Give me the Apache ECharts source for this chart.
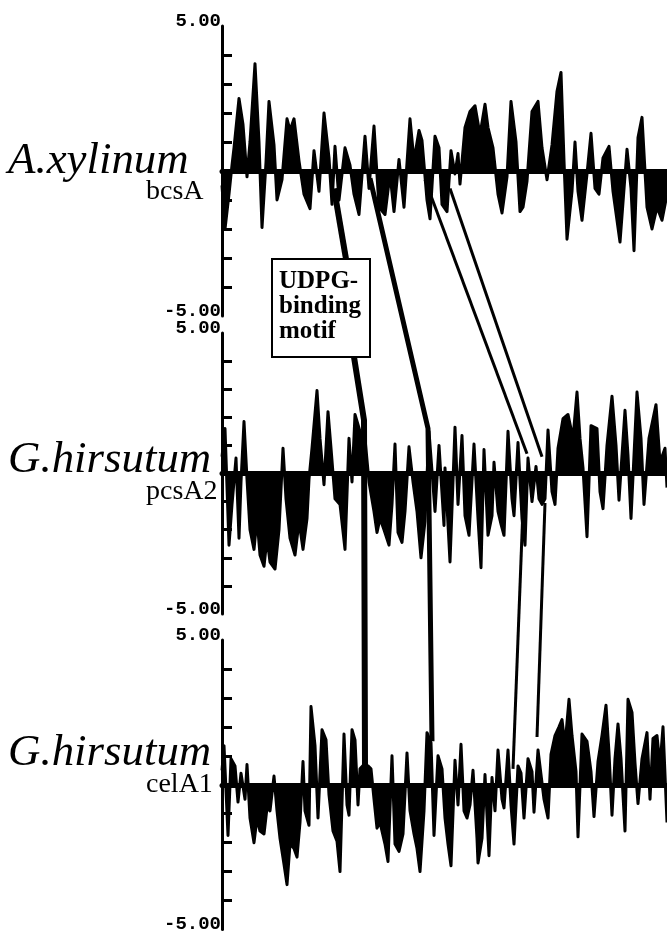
<!DOCTYPE html>
<html>
<head>
<meta charset="utf-8">
<script src="https://cdn.jsdelivr.net/npm/echarts@6/dist/echarts.min.js"></script>
<style>
  html, body { margin: 0; padding: 0; background: #fff; }
  #main { width: 667px; height: 934px; }
</style>
</head>
<body>
<div id="main"></div>
<script>
// hydropathy profiles, [residue position, hydropathy]
var bcsA = [
  [0,-0.5],[3,-2.0],[7,-0.8],[10,0.2],[12,0.8],[17,2.5],[21,1.6],[25,-0.2],[28,1.0],[33,3.7],
  [37,1.0],[40,-1.95],[44,0.3],[47,2.4],[52,0.9],[55,-1.0],[60,-0.3],[65,1.8],[68,1.4],[72,1.8],
  [77,0.35],[82,-0.8],[88,-1.3],[92,0.7],[97,-0.7],[102,2.0],[107,0.45],[110,-1.15],[113,0.85],[117,-1.0],
  [123,0.8],[128,0.2],[132,-0.8],[137,-1.5],[143,1.2],[147,-0.6],[152,1.55],[157,-1.25],[163,-1.5],[168,-0.1],
  [172,-1.4],[177,0.4],[182,-1.25],[188,1.8],[192,0.35],[197,1.4],[200,1.05],[205,-1.0],[208,-1.65],[213,1.2],
  [217,0.8],[220,-1.15],[225,-1.4],[229,0.7],[233,-0.1],[236,0.6],[238,-0.45],[243,1.5],[248,2.05],[253,2.25],
  [258,1.25],[263,2.3],[266,1.5],[271,0.8],[276,-0.8],[280,-1.45],[285,-0.2],[289,2.4],[294,1.0],[298,-1.4],
  [301,-1.25],[305,-0.35],[310,2.05],[316,2.4],[320,0.8],[325,-0.3],[330,0.9],[335,2.75],[339,3.4],[342,0.35],
  [345,-2.35],[350,-0.7],[353,1.0],[356,-0.7],[360,-1.7],[365,-0.1],[369,1.3],[373,-0.6],[377,-0.8],[381,0.45],
  [387,0.85],[391,-0.7],[398,-2.45],[405,0.75],[409,-0.6],[412,-2.75],[416,1.15],[420,1.85],[425,-1.25],[430,-2.0],
  [435,-1.25],[440,-1.7],[445,-0.8]
];
var pcsA2 = [
  [0,0.6],[3,1.6],[7,-2.55],[10,-1.1],[14,0.55],[17,-2.3],[19,-0.3],[22,1.85],[25,-0.2],[28,-2.0],
  [32,-2.7],[35,-1.6],[38,-2.9],[42,-3.3],[45,-2.3],[48,-3.15],[53,-3.4],[57,-2.0],[61,0.9],[64,-0.9],
  [68,-2.3],[73,-2.9],[77,-1.7],[81,-2.7],[85,-1.6],[87,-0.2],[90,0.9],[95,2.95],[98,1.25],[102,-0.4],
  [106,2.2],[109,0.9],[113,-0.9],[118,-1.1],[123,-2.7],[127,1.25],[130,-0.3],[133,2.1],[138,1.5],[143,1.25],
  [147,-0.3],[152,-1.35],[155,-2.1],[158,-1.6],[162,-2.0],[167,-2.55],[170,-1.1],[173,1.05],[176,-2.1],[180,-2.45],
  [183,-1.35],[187,0.95],[191,-0.3],[195,-1.35],[199,-3.0],[203,-1.7],[207,1.5],[213,-1.35],[217,1.0],[222,-1.85],
  [223,0.2],[228,-3.15],[233,1.65],[236,-1.1],[240,1.35],[243,-1.5],[247,-2.2],[252,1.05],[256,-1.6],[259,-3.35],
  [262,0.85],[266,-2.2],[270,-1.5],[272,0.4],[276,-1.35],[279,-1.8],[282,-2.2],[286,1.5],[290,-0.9],[292,-1.5],
  [296,1.1],[300,-1.6],[303,-2.55],[306,0.55],[310,-1.0],[314,0.25],[317,-0.9],[320,-1.1],[323,-0.9],[326,1.55],
  [330,-0.65],[333,-1.1],[336,0.9],[341,1.95],[346,2.1],[351,1.25],[355,2.9],[358,1.25],[361,0.2],[365,-2.25],
  [369,1.7],[375,1.6],[378,-0.65],[381,-1.25],[385,1.0],[390,2.75],[394,1.0],[397,-0.95],[403,2.25],[406,0.65],
  [409,-1.6],[415,2.9],[419,1.25],[422,-1.1],[427,1.25],[434,2.45],[438,0.4],[443,0.9],[445,-0.5]
];
var celA1 = [
  [0,0.5],[2,1.35],[6,-1.75],[9,0.9],[13,0.65],[16,-0.6],[19,0.4],[23,-0.5],[25,0.7],[28,-1.15],
  [32,-2.0],[35,-1.15],[38,-1.6],[42,-1.7],[45,-0.8],[48,-0.9],[52,0.3],[55,-0.9],[58,-1.85],[62,-2.75],
  [65,-3.45],[68,-2.05],[72,-2.2],[75,-2.5],[78,-1.3],[81,0.8],[83,-0.9],[87,-1.4],[89,2.7],[93,1.35],
  [96,-1.15],[100,1.9],[104,1.55],[107,-0.35],[111,-1.6],[115,-1.95],[118,-3.0],[122,1.75],[125,-0.7],[127,-1.05],
  [130,1.9],[133,1.55],[136,-0.7],[138,0.55],[142,0.7],[146,0.65],[149,0.55],[152,-0.5],[155,-1.5],[158,-1.3],
  [163,-2.05],[166,-2.65],[170,1.0],[173,-2.05],[177,-2.3],[181,-1.7],[185,1.1],[188,-0.9],[192,-1.7],[195,-2.2],
  [198,-3.0],[202,-0.9],[205,1.8],[209,1.45],[212,-1.75],[216,1.0],[220,0.55],[223,-1.15],[226,-2.05],[229,-2.8],
  [233,0.85],[236,-0.7],[239,1.4],[242,-0.9],[245,-1.15],[248,-0.7],[251,0.5],[255,-1.85],[256,-2.7],[260,-1.85],
  [263,0.35],[267,-2.45],[270,0.25],[273,-0.9],[276,1.2],[280,-0.5],[282,-0.8],[286,1.2],[289,-0.7],[292,-2.05],
  [296,0.65],[299,0.4],[302,-1.15],[306,0.9],[310,0.45],[312,-0.95],[316,1.2],[319,0.35],[322,-0.5],[326,-1.15],
  [329,1.05],[333,1.7],[337,2.0],[340,2.25],[343,1.35],[347,2.95],[350,1.7],[354,0.45],[356,-1.8],[360,1.75],
  [365,1.5],[369,0.45],[372,-1.1],[376,0.8],[380,1.7],[384,2.75],[387,1.1],[390,-1.05],[393,0.9],[396,2.1],
  [399,0.9],[403,-1.6],[406,2.95],[410,2.5],[413,0.75],[416,-0.65],[420,0.9],[425,1.8],[428,-0.5],[431,1.6],
  [435,1.7],[438,0.65],[441,2.0],[445,-1.3]
];
var profiles = [bcsA, pcsA2, celA1];
var organisms = ['A.xylinum', 'G.hirsutum', 'G.hirsutum'];
var genes = ['bcsA', 'pcsA2', 'celA1'];
var yMin = -5, yMax = 5;
var tickValues = [-4, -3, -2, -1, 1, 2, 3, 4];
var motifText = ['UDPG-', 'binding', 'motif'];

// connector anchors as [panel, position, hydropathy]
var motifFrom = [0, 112, -0.6];
var motifTo = [[1, 142, 1.9], [2, 143, 0.6]];
var links = [
  [[0, 148, -0.25], [1, 206, 1.6], [2, 210, 1.5]],
  [[0, 203, -0.3], [1, 305, 0.7]],
  [[1, 302, -0.3], [2, 291, 0.55]],
  [[0, 228, -0.6], [1, 320, 0.6]],
  [[1, 323, -1.05], [2, 315, 1.65]]
];

var layout = [
  { top: 26, height: 290 },
  { top: 333, height: 281 },
  { top: 640, height: 292 }
];

var chart = echarts.init(document.getElementById('main'), null, { renderer: 'canvas' });

var grids = [], xAxes = [], yAxes = [], series = [];
for (var i = 0; i < 3; i++) {
  grids.push({ left: 222, right: 0, top: layout[i].top, height: layout[i].height });
  xAxes.push({
    type: 'value', gridIndex: i, min: 0, max: 445,
    axisLine: { onZero: true, lineStyle: { color: '#000', width: 5 } },
    axisTick: { show: false }, axisLabel: { show: false }, splitLine: { show: false }
  });
  yAxes.push({
    type: 'value', gridIndex: i, min: yMin, max: yMax, interval: 1,
    axisLine: { show: true, lineStyle: { color: '#000', width: 3 } },
    axisTick: { show: true, inside: true, length: 10, customValues: tickValues,
      lineStyle: { color: '#000', width: 3 } },
    splitLine: { show: false },
    axisLabel: {
      margin: 1, color: '#000', fontFamily: 'Liberation Mono', fontWeight: 'bold', fontSize: 19,
      verticalAlign: 'bottom', lineHeight: 10,
      formatter: function (v) {
        if (v === yMax) return yMax.toFixed(2);
        if (v === yMin) return yMin.toFixed(2);
        return '';
      }
    }
  });
  series.push({
    type: 'line', xAxisIndex: i, yAxisIndex: i, data: profiles[i],
    symbol: 'none', silent: true,
    lineStyle: { color: '#000', width: 3, join: 'round' },
    areaStyle: { color: '#000', opacity: 1 }
  });
}

chart.setOption({
  animation: false,
  backgroundColor: '#fff',
  grid: grids, xAxis: xAxes, yAxis: yAxes, series: series
});

function px(a) {
  return chart.convertToPixel({ gridIndex: a[0] }, [a[1], a[2]]);
}

var g = [];
var box = { x: 272, y: 259, w: 98, h: 98 };

// motif connector goes into the box and out again
g.push({ type: 'polyline', z: 10, shape: { points: [px(motifFrom), [box.x + 74, box.y]] },
  style: { stroke: '#000', lineWidth: 6, fill: null } });
g.push({ type: 'polyline', z: 10,
  shape: { points: [[box.x + 82, box.y + box.h]].concat(motifTo.map(px)) },
  style: { stroke: '#000', lineWidth: 6, fill: null, lineJoin: 'round' } });

links.forEach(function (l, k) {
  g.push({ type: 'polyline', z: 10, shape: { points: l.map(px) },
    style: { stroke: '#000', lineWidth: k === 0 ? 5 : 3, fill: null, lineJoin: 'round' } });
});

g.push({ type: 'rect', z: 11, shape: { x: box.x, y: box.y, width: box.w, height: box.h },
  style: { fill: '#fff', stroke: '#000', lineWidth: 2 } });
g.push({ type: 'text', z: 12, x: box.x + 7, y: box.y + 10,
  style: { text: motifText.join('\n'), font: 'bold 25px "Liberation Serif"', lineHeight: 25,
    fill: '#000', align: 'left', verticalAlign: 'top' } });

var nameY = [[161, 192], [460, 492], [753, 785]];
for (var j = 0; j < 3; j++) {
  g.push({ type: 'text', x: 8, y: nameY[j][0], scaleX: 1.02,
    style: { text: organisms[j], font: 'italic 44px "Liberation Serif"', fill: '#000',
      align: 'left', verticalAlign: 'middle' } });
  g.push({ type: 'text', x: 146, y: nameY[j][1],
    style: { text: genes[j], font: '28px "Liberation Serif"', fill: '#000',
      align: 'left', verticalAlign: 'middle' } });
}

chart.setOption({ graphic: g });
</script>
</body>
</html>
